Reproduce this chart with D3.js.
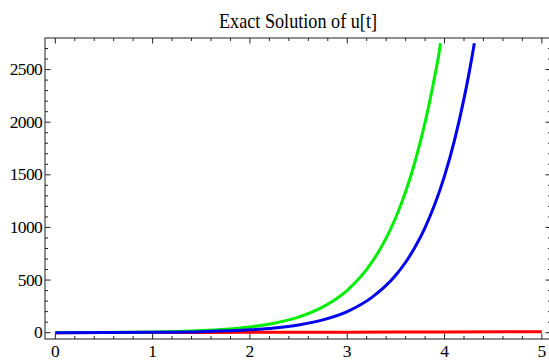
<!DOCTYPE html>
<html><head><meta charset="utf-8">
<script src="https://cdn.jsdelivr.net/npm/d3@7"></script>
<style>body{margin:0;background:#fff}svg{display:block}
text{font-family:"Liberation Serif","DejaVu Serif","Times New Roman",serif}</style>
</head><body>
<script>
const title = "Exact Solution of u[t]";
const xTicks = [0,1,2,3,4,5];
const yTicks = [0,500,1000,1500,2000,2500];
// green curve
const tGreen = [0,0.25,0.5,0.75,1,1.25,1.5,1.75,2,2.25,2.5,2.75,3,3.1,3.2,3.3,3.4,3.5,3.6,3.7,3.8,3.85,3.9,3.95,3.958];
const vGreen = [1,1.6,2.7,4.5,7.4,12,20,33,55,90,148,245,403,493,602,735,898,1097,1339,1636,1998,2208,2440,2697,2750];
// blue curve
const tBlue = [0,0.5,1,1.5,2,2.25,2.5,2.75,3,3.25,3.5,3.6,3.7,3.8,3.9,4,4.1,4.2,4.25,4.3,4.306];
const vBlue = [0.5,1.4,3.7,10,27,45,74,122,201,333,548,669,818,999,1220,1490,1820,2224,2457,2716,2750];
// red curve
const tRed = [0,1,2,3,4,5];
const vRed = [0,1.5,3,5,7.5,10];

const W=549,H=360;
const svg=d3.select("body").append("svg").attr("width",W).attr("height",H);
const L=45,R=551,T=38,B=339;
const x=d3.scaleLinear().domain([-0.106,5.094]).range([L,R]);
const y=d3.scaleLinear().domain([-60,2800]).range([B,T]);

const defs=svg.append("defs");
defs.append("clipPath").attr("id","c").append("rect").attr("x",L).attr("y",T).attr("width",R-L).attr("height",B-T);

// frame
svg.append("rect").attr("x",L).attr("y",T).attr("width",R-L).attr("height",B-T)
  .attr("fill","none").attr("stroke","#444").attr("stroke-width",1.2);

const xMinor=d3.range(0,5.01,0.2).filter(v=>Math.abs(v-Math.round(v))>1e-6);
const yMinor=d3.range(100,2800,100).filter(v=>v%500!==0);
const g=svg.append("g").attr("stroke","#222").attr("stroke-width",1);
xTicks.forEach(v=>{const px=x(v);
  g.append("line").attr("x1",px).attr("x2",px).attr("y1",B).attr("y2",B-5.5);
  g.append("line").attr("x1",px).attr("x2",px).attr("y1",T).attr("y2",T+5.5);});
xMinor.forEach(v=>{const px=x(v);
  g.append("line").attr("x1",px).attr("x2",px).attr("y1",B).attr("y2",B-3);
  g.append("line").attr("x1",px).attr("x2",px).attr("y1",T).attr("y2",T+3);});
yTicks.forEach(v=>{const py=y(v);
  g.append("line").attr("x1",L).attr("x2",L+5.5).attr("y1",py).attr("y2",py);
  g.append("line").attr("x1",R).attr("x2",R-5.5).attr("y1",py).attr("y2",py);});
yMinor.forEach(v=>{const py=y(v);
  g.append("line").attr("x1",L).attr("x2",L+3).attr("y1",py).attr("y2",py);
  g.append("line").attr("x1",R).attr("x2",R-3).attr("y1",py).attr("y2",py);});

// labels
svg.append("g").selectAll("text").data(xTicks).join("text")
  .attr("x",d=>x(d)).attr("y",357).attr("text-anchor","middle")
  .attr("font-size",17.5).attr("fill","#000").text(d=>d);
svg.append("g").selectAll("text").data(yTicks).join("text")
  .attr("x",42).attr("y",d=>y(d)+5.5).attr("text-anchor","end")
  .attr("font-size",17.5).attr("letter-spacing","-0.7").attr("fill","#000").text(d=>d);
svg.append("text").attr("x",219).attr("y",28).attr("font-size",21)
  .attr("textLength",158).attr("lengthAdjust","spacingAndGlyphs").attr("fill","#000").text(title);

const line=d3.line().x(d=>x(d[0])).y(d=>y(d[1])).curve(d3.curveMonotoneX);
const pg=svg.append("g").attr("clip-path","url(#c)").attr("fill","none").attr("stroke-width",3).attr("stroke-linecap","butt");
pg.append("path").attr("d",line(d3.zip(tRed,vRed))).attr("stroke","#ff0000");
pg.append("path").attr("d",line(d3.zip(tGreen,vGreen))).attr("stroke","#00ee00");
pg.append("path").attr("d",line(d3.zip(tBlue,vBlue))).attr("stroke","#0000ee");
</script>
</body></html>
